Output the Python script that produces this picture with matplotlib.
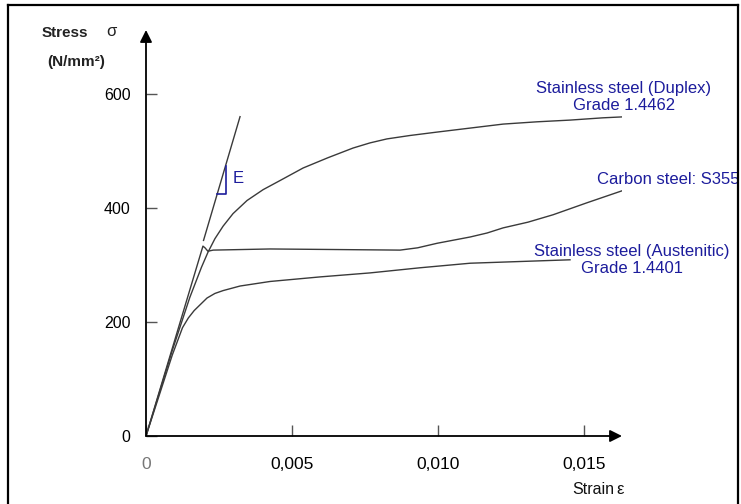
import matplotlib
matplotlib.use('Agg')
import matplotlib.pyplot as plt
from matplotlib.lines import Line2D

plt.rcParams['font.family'] = ['Liberation Sans', 'DejaVu Sans']

# 曲线数据 (应变, 应力 N/mm2)
carbon_x = [0, 0.00195, 0.00202, 0.00212, 0.0023, 0.00425, 0.0065, 0.0087,
            0.0093, 0.00997, 0.0111, 0.01168, 0.01223, 0.01308, 0.01394,
            0.0151, 0.0163]
carbon_y = [0, 333, 330, 324, 326, 328, 327, 326, 330, 338, 349, 356, 365,
            375, 388, 409, 430]

duplex_x = [0, 0.0009, 0.0015, 0.0019, 0.00212, 0.00236, 0.00264, 0.00298,
            0.00346, 0.00401, 0.00459, 0.00538, 0.00623, 0.00709, 0.00767,
            0.00825, 0.00904, 0.00997, 0.0111, 0.01223, 0.01339, 0.01452,
            0.01565, 0.01647]
duplex_y = [0, 150, 243, 296, 322, 346, 368, 390, 413, 432, 448, 470, 488,
            505, 514, 521, 527, 533, 540, 547, 551, 554, 558, 560]

austen_x = [0, 0.0009, 0.00125, 0.00145, 0.00165, 0.00187, 0.00209, 0.00236,
            0.00264, 0.00322, 0.00425, 0.00596, 0.00767, 0.00938, 0.0111,
            0.01281, 0.01452]
austen_y = [0, 142, 190, 207, 220, 231, 242, 250, 255, 263, 271, 279, 286,
            295, 303, 306, 309]

# 弹性模量切线
tangent_x = [0.00197, 0.00322]
tangent_y = [343, 560]

x_ticks = [0, 0.005, 0.010, 0.015]
x_labels = ['0', '0,005', '0,010', '0,015']
y_ticks = [0, 200, 400, 600]

W, H = 741, 504
fig = plt.figure(figsize=(W / 100, H / 100), dpi=100)
# 轴的位置按像素换算
ax = fig.add_axes([146 / W, 68 / H, 476 / W, 406 / H])
ax.set_xlim(0, 0.0163)
ax.set_ylim(0, 712)
for s in ax.spines.values():
    s.set_visible(False)

line_c = '#3a3a3a'
for xs, ys in [(carbon_x, carbon_y), (duplex_x, duplex_y),
               (austen_x, austen_y), (tangent_x, tangent_y)]:
    ax.plot(xs, ys, color=line_c, lw=1.0, solid_joinstyle='round')

# 坐标轴箭头
axis_c = '#555555'
for end in [(0, 1.0), (1.0, 0)]:
    ax.annotate('', xy=end, xytext=(0, 0), xycoords='axes fraction',
                arrowprops=dict(arrowstyle='-|>', color='black', lw=1.3,
                                mutation_scale=18, shrinkA=0, shrinkB=0))

ax.set_xticks(x_ticks)
ax.set_xticklabels(x_labels)
ax.set_yticks(y_ticks)
ax.tick_params(axis='x', direction='in', length=8, width=1, color=axis_c,
               pad=15, labelsize=12.5)
ax.tick_params(axis='y', direction='in', length=8, width=1, color=axis_c,
               pad=11, labelsize=11.5)
ax.get_xticklabels()[0].set_color('#777777')

# E 三角形
blue = '#1c1c9c'
ax.plot([0.00274, 0.00274, 0.00243], [474, 425, 425], color=blue, lw=1.2)
ax.text(0.00315, 451, 'E', color=blue, fontsize=12, va='center', ha='center')

# 曲线标注
ax.text(0.01637, 595, 'Stainless steel (Duplex)\nGrade 1.4462', color=blue,
        fontsize=12, ha='center', va='center', linespacing=1.2, clip_on=False)
ax.text(0.01788, 449, 'Carbon steel: S355', color=blue, fontsize=12,
        ha='center', va='center', clip_on=False)
ax.text(0.01664, 309, 'Stainless steel (Austenitic)\nGrade 1.4401', color=blue,
        fontsize=12, ha='center', va='center', linespacing=1.2, clip_on=False)

# 轴标题
fig.text(42 / W, 1 - 33 / H, 'Stress', fontsize=11, fontweight='bold',
         ha='left', va='center', color='#222222')
fig.text(111 / W, 1 - 31 / H, 'σ', fontsize=12, ha='center', va='center',
         color='#222222')
fig.text(47 / W, 1 - 62 / H, '(N/mm²)', fontsize=11, fontweight='bold',
         ha='left', va='center', color='#222222')
fig.text(572 / W, 1 - 490 / H, 'Strain', fontsize=11.5, ha='left',
         va='center', color='#111111')
fig.text(620 / W, 1 - 490 / H, 'ε', fontsize=12, ha='center',
         va='center', color='#111111')

# 外框
for xs, ys in [([8, 8], [5, H]), ([8, 738], [5, 5]), ([738, 738], [5, H])]:
    fig.add_artist(Line2D([x / W for x in xs], [1 - y / H for y in ys],
                          color='black', lw=1.6))

fig.savefig('out.png', dpi=100)
